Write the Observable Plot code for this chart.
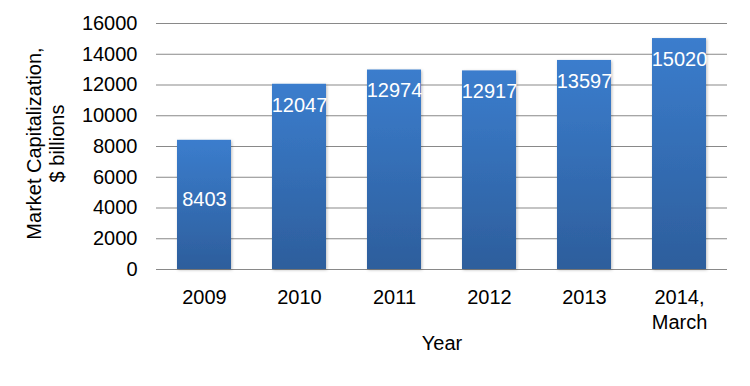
<!DOCTYPE html>
<html>
<head>
<meta charset="utf-8">
<script src="https://cdn.jsdelivr.net/npm/d3@7"></script>
<script src="https://cdn.jsdelivr.net/npm/@observablehq/plot@0.6"></script>
<style>
  html, body { margin: 0; padding: 0; background: #fff; }
  #chart svg { display: block; }
</style>
</head>
<body>
<div id="chart"></div>
<script>
const years = ["2009", "2010", "2011", "2012", "2013", "2014,\nMarch"];
const values = [8403, 12047, 12974, 12917, 13597, 15020];
const yTicks = [0, 2000, 4000, 6000, 8000, 10000, 12000, 14000, 16000];
const yTitle = "Market Capitalization,\n$ billions";
const xTitle = "Year";

const data = years.map((year, i) => ({year, value: values[i]}));
const font = "Liberation Sans, Arial, sans-serif";

const plot = Plot.plot({
  width: 750,
  height: 386,
  marginLeft: 156,
  marginRight: 23,
  marginTop: 23,
  marginBottom: 117,
  style: {fontFamily: font, fontSize: "20px", color: "#000", background: "#fff"},
  x: {domain: years, paddingInner: 0.43, paddingOuter: 0.215, label: null},
  y: {domain: [0, 16000], label: null},
  marks: [
    Plot.gridY(yTicks, {stroke: "#898989", strokeOpacity: 1, strokeWidth: 1}),
    Plot.barY(data, {x: "year", y: "value", fill: "url(#barGrad)"}),
    Plot.axisY({ticks: yTicks, tickFormat: d => String(d), tickSize: 0, tickPadding: 19, label: null, fontSize: 20}),
    Plot.axisX({tickSize: 0, tickPadding: 17, label: null, fontSize: 20, lineHeight: 1.25}),
    Plot.text(data.filter(d => d.year !== "2009"), {x: "year", y: "value", text: d => String(d.value), dy: 21, fill: "white", fontSize: 20}),
    Plot.text(data.filter(d => d.year === "2009"), {x: "year", y: "value", text: d => String(d.value), dy: 59, fill: "white", fontSize: 20}),
    Plot.text([yTitle], {frameAnchor: "left", textAnchor: "middle", lineAnchor: "middle", dx: -111, dy: -3, rotate: -90, fontSize: 20, lineHeight: 1.15, fill: "#000"}),
    Plot.text([xTitle], {frameAnchor: "bottom", lineAnchor: "middle", dy: 74, fontSize: 20, fill: "#000"})
  ]
});

const svg = d3.select(plot);
const defs = svg.insert("defs", ":first-child");
const g = defs.append("linearGradient").attr("id", "barGrad").attr("x1", 0).attr("y1", 0).attr("x2", 0).attr("y2", 1);
g.append("stop").attr("offset", "0%").attr("stop-color", "#3B7DCD");
g.append("stop").attr("offset", "100%").attr("stop-color", "#2D5E9C");
const f = defs.append("filter").attr("id", "barShadow").attr("x", "-20%").attr("y", "-10%").attr("width", "140%").attr("height", "120%");
f.append("feDropShadow").attr("dx", 1).attr("dy", 1).attr("stdDeviation", 1.5).attr("flood-color", "#000").attr("flood-opacity", 0.25);
svg.selectAll("g[aria-label='bar'] rect").attr("filter", "url(#barShadow)");

document.getElementById("chart").appendChild(plot);
</script>
</body>
</html>
